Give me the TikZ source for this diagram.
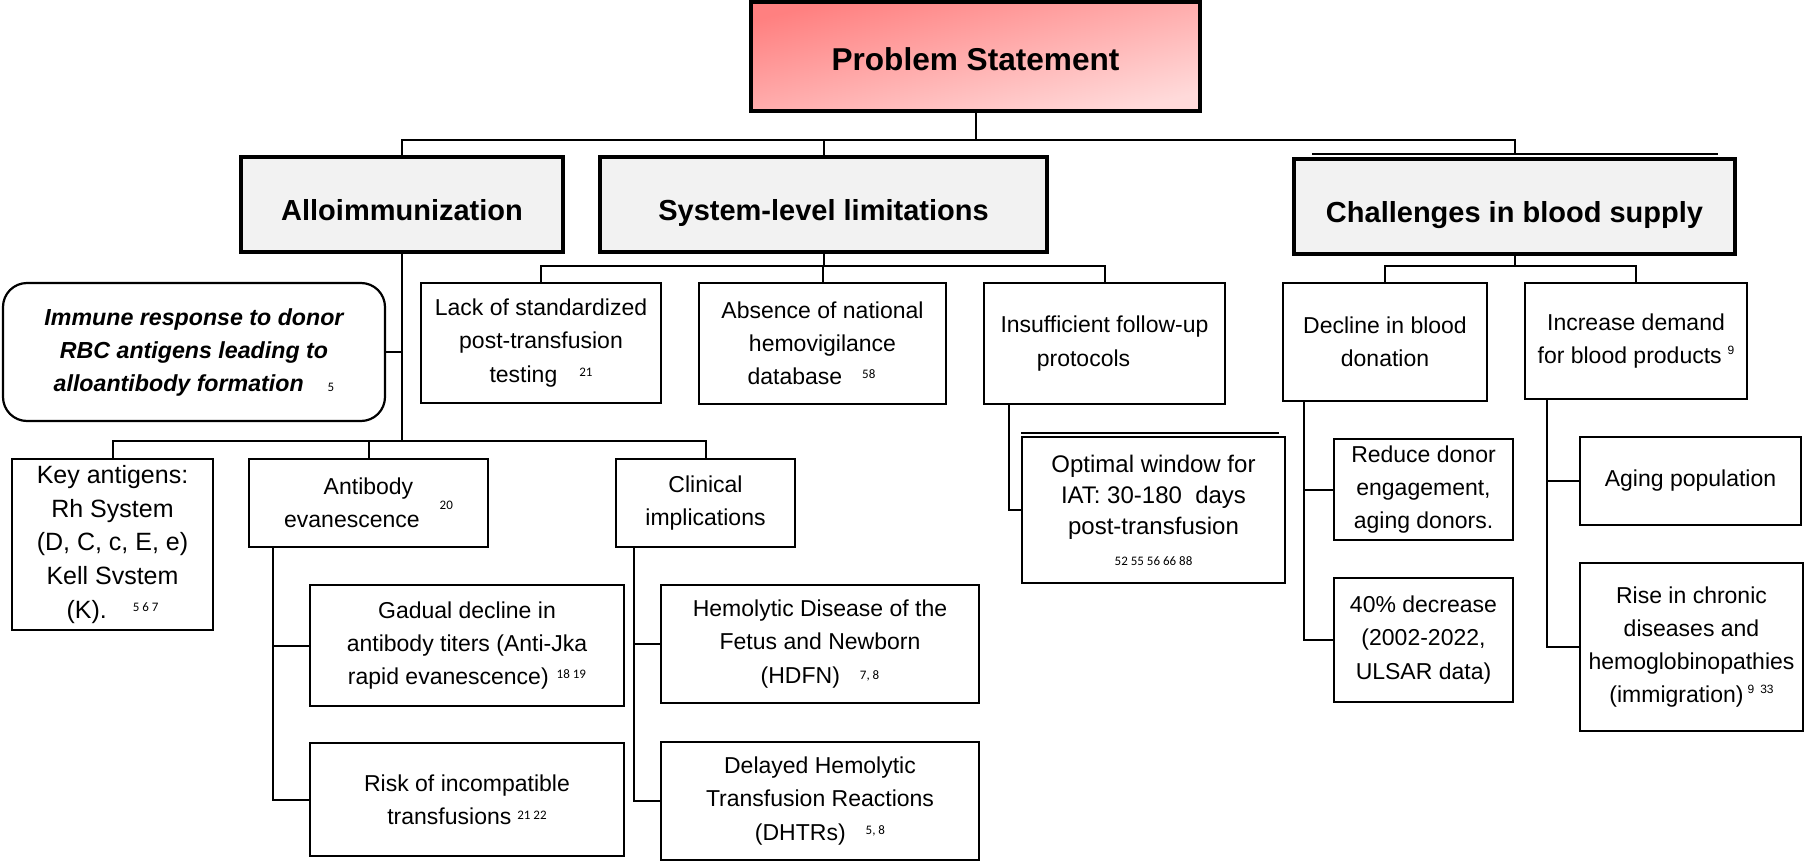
\documentclass[tikz,border=0pt]{standalone}
\usepackage{fontspec}
\setmainfont{Liberation Sans}
\newfontfamily\refont{Carlito}
% reference numbers: Carlito, small, raised by the optional amount
\newcommand{\refn}[2][3pt]{\raisebox{#1}{\fontsize{6.5}{7}\selectfont\refont\mdseries\upshape #2}}
% superscript reference numbers in the body font
\newcommand{\refs}[2][4.5pt]{\raisebox{#1}{\fontsize{6}{7}\selectfont #2}}
\definecolor{headgray}{HTML}{F2F2F2}
\definecolor{probdark}{HTML}{FF8080}
\definecolor{problight}{HTML}{FFDADA}

\tikzset{
  probbox/.style={draw, line width=2pt, top color=probdark, bottom color=problight,
    shading angle=13.6, inner sep=0pt,
    font=\fontsize{15.8}{18}\selectfont\bfseries, text height=13.8pt, text depth=0pt},
  head/.style={draw, line width=1.9pt, fill=headgray, inner sep=0pt,
    font=\fontsize{14.5}{17}\selectfont\bfseries, text height=16.4pt, text depth=0pt},
  leaf/.style={draw, line width=1.1pt, fill=white, inner sep=0pt, align=center,
    font=\fontsize{11.5}{16.6}\selectfont},
  link/.style={line width=1pt},
}

\begin{document}
\begin{tikzpicture}[x=0.5pt, y=-0.5pt]
\useasboundingbox (0,0) rectangle (1805,862);

% ---- top level ----
\node[probbox, minimum width=224.5pt, minimum height=54.5pt] (prob) at (975.5,56.5) {Problem Statement};

\node[head, minimum width=161pt,   minimum height=47.5pt] (allo) at (402,204.5)    {Alloimmunization};
\node[head, minimum width=223.5pt, minimum height=47.5pt] (sys)  at (823.5,204.5)  {System-level limitations};
\node[head, minimum width=220.5pt, minimum height=47.5pt] (chal) at (1514.5,206.5) {Challenges in blood supply};
\draw[line width=1pt] ([xshift=10pt,yshift=1.6pt]chal.north west) -- ([xshift=-9.5pt,yshift=1.6pt]chal.north east);

% ---- alloimmunization branch ----
\node[leaf, rounded corners=12pt, font=\fontsize{11.6}{16.5}\selectfont\bfseries\itshape,
      minimum width=191pt, minimum height=69pt] (immune) at (194,352)
  {Immune response to donor\\RBC antigens leading to\\alloantibody formation\hspace{12pt}\refn[0pt]{5}};

\node[leaf, font=\fontsize{12.5}{16.8}\selectfont, minimum width=100.5pt, minimum height=85.5pt] (key) at (112.5,544.5)
  {Key antigens:\\Rh System\\(D, C, c, E, e)\\Kell Svstem\\(K).\hspace{13pt}\refn[3.5pt]{5 6 7}};
\node[leaf, minimum width=119.5pt, minimum height=44pt] (anti) at (368.5,503)
  {Antibody\\evanescence\hspace{10pt}\refn[9pt]{20}};
\node[leaf, minimum width=89.5pt, minimum height=44pt] (clin) at (705.5,503)
  {Clinical\\implications};

\node[leaf, minimum width=157pt, minimum height=60.5pt] (grad) at (467,645.5)
  {Gadual decline in\\antibody titers (Anti-Jka\\rapid evanescence)\hspace{4pt}\refn[3pt]{18 19}};
\node[leaf, minimum width=157pt, minimum height=56.5pt] (risk) at (467,799.5)
  {Risk of incompatible\\transfusions\hspace{3pt}\refn[2.5pt]{21 22}};
\node[leaf, minimum width=159pt, minimum height=59pt] (hdfn) at (820,644)
  {Hemolytic Disease of the\\Fetus and Newborn\\(HDFN)\hspace{10pt}\refn[2pt]{7, 8}};
\node[leaf, minimum width=159pt, minimum height=59pt] (dhtr) at (820,801)
  {Delayed Hemolytic\\Transfusion Reactions\\(DHTRs)\hspace{10pt}\refn[3pt]{5, 8}};

% ---- system-level branch ----
\node[leaf, minimum width=120pt, minimum height=60pt] (lack) at (541,343)
  {Lack of standardized\\post-transfusion\\testing\hspace{11pt}\refn[3pt]{21}};
\node[leaf, minimum width=123.5pt, minimum height=60.5pt] (absn) at (822.5,343.5)
  {Absence of national\\hemovigilance\\database\hspace{10pt}\refn[3pt]{58}\kern11pt};
\node[leaf, minimum width=120.5pt, minimum height=60.5pt] (insf) at (1104.5,343.5)
  {Insufficient follow-up\\protocols\kern21pt};
\node[leaf, font=\fontsize{12}{15.5}\selectfont, minimum width=131.5pt, minimum height=73pt] (optw) at (1153.5,510)
  {Optimal window for\\IAT: 30-180\ \ days\\post-transfusion\\\refn[0pt]{52 55 56 66 88}};
\draw[line width=1pt] ([yshift=1.6pt]optw.north west) -- ([xshift=-3.5pt,yshift=1.6pt]optw.north east);

% ---- blood supply branch ----
\node[leaf, minimum width=102pt, minimum height=59pt] (decl) at (1385,342)
  {Decline in blood\\donation};
\node[leaf, minimum width=111pt, minimum height=58pt] (incr) at (1636,341)
  {Increase demand\\for blood products\hspace{3pt}\refs{9}};
\node[leaf, minimum width=89.5pt, minimum height=50.5pt] (redu) at (1423.5,489.5)
  {Reduce donor\\engagement,\\aging donors.};
\node[leaf, minimum width=89.5pt, minimum height=62pt] (pct) at (1423.5,640)
  {40\% decrease\\(2002-2022,\\ULSAR data)};
\node[leaf, minimum width=110.5pt, minimum height=44pt] (agin) at (1690.5,481)
  {Aging population};
\node[leaf, minimum width=111.5pt, minimum height=84pt] (rise) at (1691.5,647)
  {Rise in chronic\\diseases and\\hemoglobinopathies\\(immigration)\hspace{2pt}\refs{9\hspace{3pt}33}};

% ---- connectors ----
\draw[link] (prob.south) -- ++(0,27) coordinate (b0);
\draw[link] (allo.north) |- (chal.north |- b0) -- ([yshift=1.6pt]chal.north);
\draw[link] (sys.north) -- (sys.north |- b0);

\draw[link] (sys.south) -- ++(0,12) coordinate (b1);
\draw[link] (lack.north) |- (insf.north |- b1) -- (insf.north);
\draw[link] (absn.north) -- (absn.north |- b1);

\draw[link] (chal.south) -- ++(0,10) coordinate (b2);
\draw[link] (decl.north) |- (incr.north |- b2) -- (incr.north);

\draw[link] (allo.south) -- ++(0,187) coordinate (b3);
\draw[link] (key.north) |- (clin.north |- b3) -- (clin.north);
\draw[link] (anti.north) -- (anti.north |- b3);
\draw[link] (immune.east) -- (immune.east -| allo.south);

\coordinate (antiv) at (273,547);
\draw[link] (antiv) |- (risk.west);
\draw[link] (antiv |- grad.west) -- (grad.west);

\coordinate (clinv) at (634,547);
\draw[link] (clinv) |- (dhtr.west);
\draw[link] (clinv |- hdfn.west) -- (hdfn.west);

\coordinate (insv) at (1009,404);
\draw[link] (insv) |- (optw.west);

\coordinate (declv) at (1304,401);
\draw[link] (declv) |- (pct.west);
\draw[link] (declv |- redu.west) -- (redu.west);

\coordinate (incrv) at (1547,399);
\draw[link] (incrv) |- (rise.west);
\draw[link] (incrv |- agin.west) -- (agin.west);
\end{tikzpicture}
\end{document}
